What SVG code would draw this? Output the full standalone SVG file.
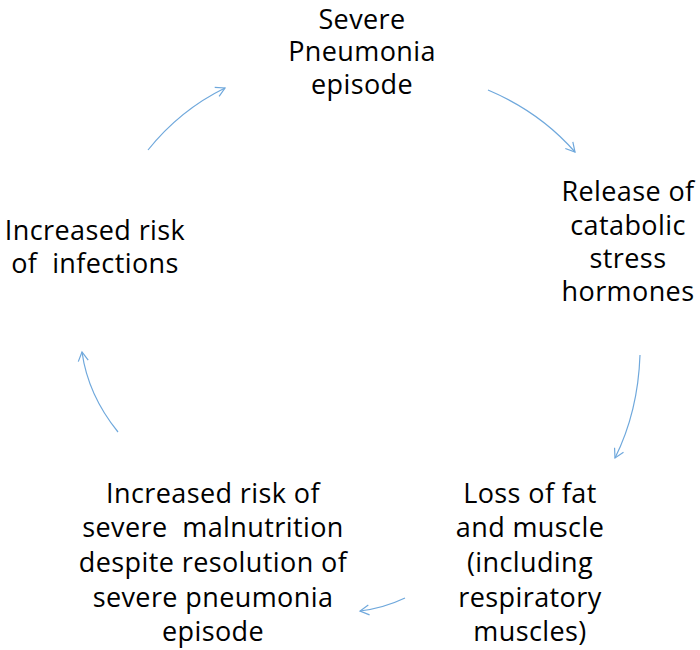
<svg xmlns="http://www.w3.org/2000/svg" width="700" height="650" viewBox="0 0 700 650">
<style>
text{font-family:"Open Sans","Liberation Sans",sans-serif;font-size:27px;letter-spacing:0.4px;fill:#000;text-anchor:middle;white-space:pre}
.c{fill:none;stroke:#6fa8dc;stroke-width:1.2;marker-end:url(#a)}
</style>
<defs><marker id="a" markerWidth="12" markerHeight="12" refX="10" refY="6" orient="auto" markerUnits="userSpaceOnUse"><path d="M1,1 L10,6 L1,11" fill="none" stroke="#6fa8dc" stroke-width="1.2"/></marker></defs>
<rect width="700" height="650" fill="#fff"/>
<g id="n1"><text x="362" y="29">Severe</text><text x="362" y="61">Pneumonia</text><text x="362" y="94">episode</text></g>
<g id="n2"><text x="628" y="201">Release of</text><text x="628" y="235">catabolic</text><text x="628" y="268">stress</text><text x="628" y="301">hormones</text></g>
<g id="n3"><text x="530" y="503">Loss of fat</text><text x="530" y="537">and muscle</text><text x="530" y="572">(including</text><text x="530" y="607">respiratory</text><text x="530" y="641">muscles)</text></g>
<g id="n4"><text x="213" y="503">Increased risk of</text><text x="213" y="537">severe  malnutrition</text><text x="213" y="572">despite resolution of</text><text x="213" y="607">severe pneumonia</text><text x="213" y="641">episode</text></g>
<g id="n5"><text x="95" y="240">Increased risk</text><text x="95" y="273">of  infections</text></g>
<g id="connectors">
<path class="c" d="M488,90 Q540,112 575,152"/>
<path class="c" d="M640,355 Q638,412 615,458"/>
<path class="c" d="M405,598 Q384,608 360,611"/>
<path class="c" d="M118,432 Q88,395 82,352"/>
<path class="c" d="M148,150 Q180,110 225,88"/>
</g>
</svg>
